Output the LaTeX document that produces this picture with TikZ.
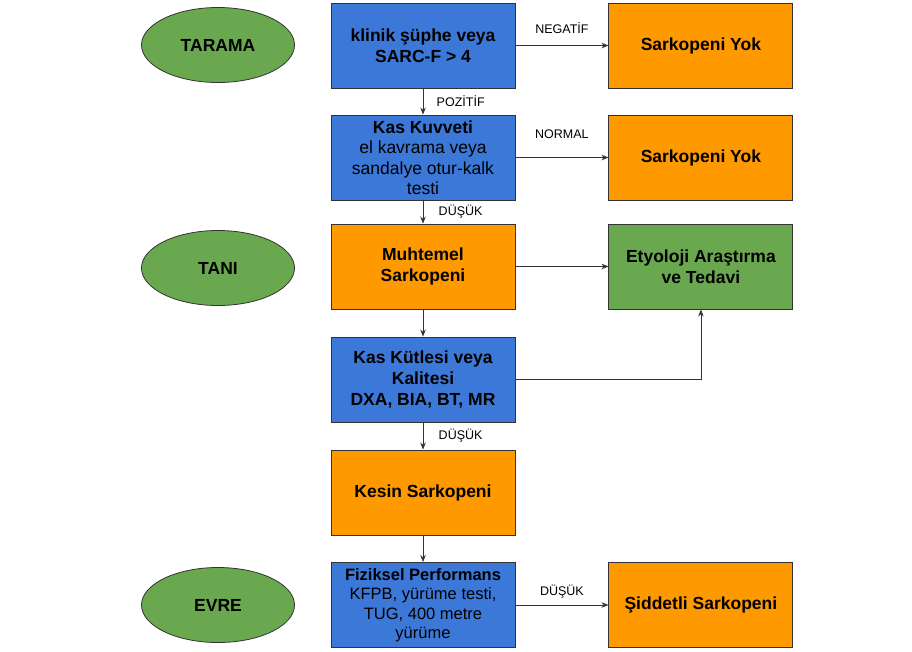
\documentclass[tikz,border=0pt]{standalone}
\usepackage{fontspec}
\setmainfont{Liberation Sans}
\usepackage{tikz}
\usetikzlibrary{arrows.meta, positioning, shapes.geometric}
\definecolor{boxblue}{HTML}{3C78D8}
\definecolor{boxorange}{HTML}{FF9900}
\definecolor{boxgreen}{HTML}{6AA84F}
\definecolor{edgegray}{HTML}{333333}

\begin{document}
\begin{tikzpicture}[x=1pt, y=-1pt,
    box/.style={draw=edgegray, line width=0.9pt, minimum width=184pt, minimum height=85pt,
        align=center, inner sep=2pt, font=\bfseries\fontsize{17.5}{21}\selectfont},
    plainbox/.style={box, font=\fontsize{17.5}{20.5}\selectfont},
    stage/.style={ellipse, draw=edgegray, fill=boxgreen, line width=0.8pt,
        minimum width=153pt, minimum height=75pt, font=\bfseries\fontsize{17.5}{20}\selectfont},
    flow/.style={->, draw=edgegray, line width=0.8pt},
    tag/.style={font=\fontsize{12.5}{14}\selectfont},
    >={Stealth[length=7pt, width=5.5pt]}]
        \useasboundingbox (0,0) rectangle (912,651);

        % Stages
        \node[stage] (tarama) at (218,45) {TARAMA};
        \node[stage] (tani) at (218,268) {TANI};
        \node[stage] (evre) at (218,605) {EVRE};

        % Main column
        \node[box, fill=boxblue] (supheli) at (423,45.5) {klinik şüphe veya\\SARC-F > 4};
        \node[plainbox, fill=boxblue] (kuvvet) at (423,157.5) {\textbf{Kas Kuvveti}\\el kavrama veya\\sandalye otur-kalk\\testi};
        \node[box, fill=boxorange] (muhtemel) at (423,266.5) {Muhtemel\\Sarkopeni};
        \node[box, fill=boxblue] (kutle) at (423,379.5) {Kas Kütlesi veya\\Kalitesi\\DXA, BIA, BT, MR};
        \node[box, fill=boxorange] (kesin) at (423,492.5) {Kesin Sarkopeni};
        \node[plainbox, fill=boxblue, font=\fontsize{16.5}{19.5}\selectfont] (performans) at (423,605) {\textbf{Fiziksel Performans}\\KFPB, yürüme testi,\\TUG, 400 metre\\yürüme};

        % Outcomes
        \node[box, fill=boxorange, right=93pt of supheli] (yok1) {Sarkopeni Yok};
        \node[box, fill=boxorange, right=93pt of kuvvet] (yok2) {Sarkopeni Yok};
        \node[box, fill=boxgreen, right=93pt of muhtemel] (etyoloji) {Etyoloji Araştırma\\ve Tedavi};
        \node[box, fill=boxorange, right=93pt of performans] (siddetli) {Şiddetli Sarkopeni};

        % Flow
        \draw[flow] (supheli) -- node[tag, right=10pt] {POZİTİF} (kuvvet);
        \draw[flow] (kuvvet) -- node[tag, right=12pt] {DÜŞÜK} (muhtemel);
        \draw[flow] (muhtemel) -- (kutle);
        \draw[flow] (kutle) -- node[tag, right=12pt] {DÜŞÜK} (kesin);
        \draw[flow] (kesin) -- (performans);

        \draw[flow] (supheli) -- node[tag, above=8pt] {NEGATİF} (yok1);
        \draw[flow] (kuvvet) -- node[tag, above=15pt] {NORMAL} (yok2);
        \draw[flow] (muhtemel) -- (etyoloji);
        \draw[flow] (kutle.east) -| (etyoloji.south);
        \draw[flow] (performans) -- node[tag, above=3pt] {DÜŞÜK} (siddetli);
    \end{tikzpicture}
\end{document}
